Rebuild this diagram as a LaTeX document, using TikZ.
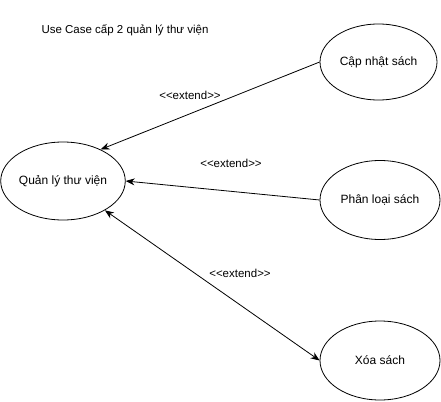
\documentclass[tikz,border=0pt]{standalone}
\usepackage{fontspec}
\setmainfont{Liberation Sans}
\usetikzlibrary{shapes.geometric,arrows.meta}
\newcommand{\extlbl}{<\kern0pt<\kern0pt extend>\kern0pt>}
\begin{document}
\begin{tikzpicture}[x=1pt,y=-1pt,
  uc/.style={draw,ellipse,line width=0.8pt,inner sep=0pt,minimum width=120pt,minimum height=79pt,font=\fontsize{12}{14}\selectfont},
  lbl/.style={inner sep=0pt,font=\fontsize{11.5}{13}\selectfont},
  conn/.style={line width=0.8pt,-{Stealth[length=9pt,width=7pt]}}]
\useasboundingbox (0,0) rectangle (441,401);
\node[uc,minimum width=124pt,minimum height=78pt] (ql) at (63,181) {Quản lý thư viện};
\node[uc,minimum width=117pt,minimum height=76pt] (cap) at (378.5,62) {Cập nhật sách};
\node[uc] (ph) at (380,200) {Phân loại sách};
\node[uc] (xoa) at (380,360.5) {Xóa sách};
\node[lbl] (title) at (125,30) {Use Case cấp 2 quản lý thư viện};
\draw[conn] (cap.west) -- (ql.40);
\draw[conn] (ph.west) -- (ql.east);
\draw[conn,{Stealth[length=9pt,width=7pt]}-{Stealth[length=9pt,width=7pt]}] (ql.-35) -- (xoa.west);
\node[lbl] (e1) at (190,95) {\extlbl};
\node[lbl] (e2) at (231,163) {\extlbl};
\node[lbl] (e3) at (240,273) {\extlbl};
\end{tikzpicture}
\end{document}
